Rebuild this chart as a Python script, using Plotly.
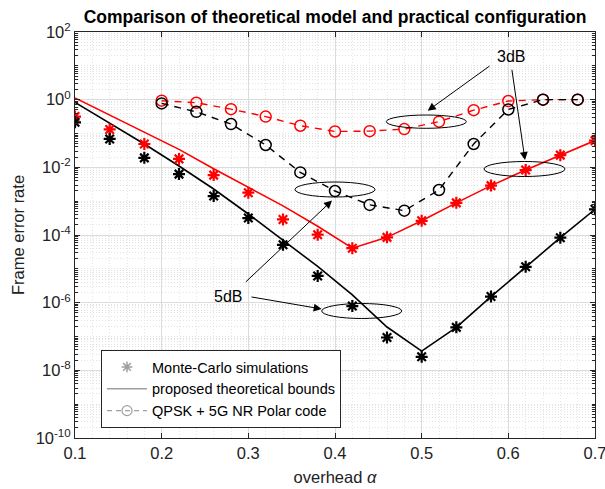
import plotly.graph_objects as go

# ---- data ----
x_mc = [0.10, 0.14, 0.18, 0.22, 0.26, 0.30, 0.34, 0.38, 0.42, 0.46, 0.50, 0.54, 0.58, 0.62, 0.66, 0.70]

# log10 of frame error rate
red_mc_log = [-0.50, -0.88, -1.31, -1.75, -2.23, -2.75, -3.54, -3.99, -4.39, -4.07, -3.58, -3.05, -2.54, -2.08, -1.64, -1.21]
black_mc_log = [-0.67, -1.16, -1.72, -2.20, -2.85, -3.50, -4.29, -5.21, -6.10, -7.03, -7.60, -6.73, -5.82, -4.94, -4.08, -3.24]

red_th_log = [0.05, -0.45, -0.96, -1.47, -2.04, -2.58, -3.14, -3.74, -4.39, -4.07, -3.58, -3.05, -2.54, -2.08, -1.64, -1.21]
black_th_log = [-0.08, -0.69, -1.31, -1.96, -2.64, -3.38, -4.15, -4.93, -5.77, -6.72, -7.43, -6.73, -5.82, -4.94, -4.08, -3.24]

x_polar = [0.20, 0.24, 0.28, 0.32, 0.36, 0.40, 0.44, 0.48, 0.52, 0.56, 0.60, 0.64, 0.68]
red_polar_log = [-0.03, -0.09, -0.28, -0.50, -0.77, -0.94, -0.93, -0.87, -0.65, -0.31, -0.04, 0.0, 0.0]
black_polar_log = [-0.11, -0.36, -0.72, -1.34, -2.15, -2.70, -3.11, -3.28, -2.67, -1.31, -0.29, 0.0, 0.0]

x_ticks = [0.1, 0.2, 0.3, 0.4, 0.5, 0.6, 0.7]
y_tick_exp = [-10, -8, -6, -4, -2, 0, 2]

legend_names = ["Monte-Carlo simulations", "proposed theoretical bounds", "QPSK + 5G NR Polar code"]

def to_lin(v):
    return [10 ** a for a in v]

FONT = "Liberation Sans, Arial, Helvetica, sans-serif"
RED = "#ff0000"
BLK = "#000000"
GRAY = "#a0a0a0"

fig = go.Figure()

# theoretical bounds
fig.add_trace(go.Scatter(x=x_mc, y=to_lin(red_th_log), mode="lines",
                         line=dict(color=RED, width=1.6), showlegend=False))
fig.add_trace(go.Scatter(x=x_mc, y=to_lin(black_th_log), mode="lines",
                         line=dict(color=BLK, width=1.6), showlegend=False))
# polar code
fig.add_trace(go.Scatter(x=x_polar, y=to_lin(red_polar_log), mode="lines+markers",
                         line=dict(color=RED, width=1.4, dash="7px,6px"),
                         marker=dict(symbol="circle-open", size=11, color=RED, line=dict(width=1.5, color=RED)),
                         showlegend=False))
fig.add_trace(go.Scatter(x=x_polar, y=to_lin(black_polar_log), mode="lines+markers",
                         line=dict(color=BLK, width=1.4, dash="7px,6px"),
                         marker=dict(symbol="circle-open", size=11, color=BLK, line=dict(width=1.5, color=BLK)),
                         showlegend=False))
# Monte-Carlo
fig.add_trace(go.Scatter(x=x_mc, y=to_lin(red_mc_log), mode="markers",
                         marker=dict(symbol="asterisk-open", size=10, color=RED, line=dict(width=2.2, color=RED)),
                         showlegend=False))
fig.add_trace(go.Scatter(x=x_mc, y=to_lin(black_mc_log), mode="markers",
                         marker=dict(symbol="asterisk-open", size=10, color=BLK, line=dict(width=2.2, color=BLK)),
                         showlegend=False))

# legend dummies (gray)
fig.add_trace(go.Scatter(x=[None], y=[None], mode="markers", name=legend_names[0],
                         marker=dict(symbol="asterisk-open", size=9, color=GRAY, line=dict(width=1.5, color=GRAY))))
fig.add_trace(go.Scatter(x=[None], y=[None], mode="lines", name=legend_names[1],
                         line=dict(color=GRAY, width=1.6)))
fig.add_trace(go.Scatter(x=[None], y=[None], mode="lines+markers", name=legend_names[2],
                         line=dict(color=GRAY, width=1.2, dash="5px,4px"),
                         marker=dict(symbol="circle-open", size=10, color=GRAY, line=dict(width=1.2, color=GRAY))))

# page geometry (body margin removed by post_script, figure fills the window)
W, H = 605, 489
P_L, P_T, P_R, P_B = 75, 32, 595, 438          # plot area in page pixels
L, T, R, B = P_L, P_T, W - P_R, H - P_B
PW, PH = P_R - P_L, P_B - P_T

def px(xp):
    return (xp - P_L) / PW

def py(yp):
    return (P_B - yp) / PH

minor_y = [k * 10 ** n for n in range(-10, 2) for k in range(1, 10)]

fig.update_layout(
    template="none",
    width=W, height=H,
    margin=dict(l=L, r=R, t=T, b=B, autoexpand=False),
    paper_bgcolor="white", plot_bgcolor="white",
    font=dict(family=FONT, size=16, color="#222222"),
    title=dict(text="<b>Comparison of theoretical model and practical configuration</b>",
               x=(L + PW / 2) / W, xanchor="center", y=1 - 17 / H, yanchor="middle",
               font=dict(family=FONT, size=17.5, color="black")),
    xaxis=dict(range=[0.1, 0.7], tickvals=x_ticks, ticktext=[f"{v:.1f}" for v in x_ticks],
               automargin=False, ticklabeloverflow="allow",
               showline=True, linecolor="#262626", linewidth=1, mirror="ticks",
               ticks="inside", ticklen=5, tickcolor="#262626",
               showgrid=True, gridcolor="#dcdcdc", gridwidth=1, zeroline=False,
               title=dict(text="overhead <i>α</i>", font=dict(size=16.5), standoff=10),
               tickfont=dict(size=16.5),
               minor=dict(dtick=0.02, showgrid=True, gridcolor="#e6e6e6", griddash="1px,2px", ticks="")),
    yaxis=dict(type="log", range=[-10, 2],
               tickvals=[10 ** e for e in y_tick_exp],
               ticktext=[f"10<sup>{e}</sup>" for e in y_tick_exp],
               automargin=False, ticklabeloverflow="allow",
               showline=True, linecolor="#262626", linewidth=1, mirror="ticks",
               ticks="inside", ticklen=5, tickcolor="#262626",
               showgrid=True, gridcolor="#dcdcdc", gridwidth=1, zeroline=False,
               title=dict(text="Frame error rate", font=dict(size=16.5), standoff=6),
               tickfont=dict(size=16.5),
               minor=dict(tickvals=minor_y, showgrid=True, gridcolor="#e3e3e3", griddash="1px,2px",
                          ticks="inside", ticklen=3, tickcolor="#262626")),
    legend=dict(x=px(101), y=py(350), xanchor="left", yanchor="top",
                bgcolor="white", bordercolor="#262626", borderwidth=1,
                font=dict(family=FONT, size=14.5, color="black"),
                tracegroupgap=0, itemwidth=40),
    showlegend=True,
)

# ellipses (annotations), page pixels
ellipses = [(386.3, 466.3, 115.0, 128.3), (484.0, 565.0, 161.5, 176.5),
            (295.0, 375.0, 182.0, 197.0), (321.7, 401.7, 303.5, 318.5)]
for x0, x1, y0, y1 in ellipses:
    fig.add_shape(type="circle", xref="paper", yref="paper",
                  x0=px(x0), x1=px(x1), y0=py(y1), y1=py(y0),
                  line=dict(color="black", width=1))

# arrows: head (px), tail (px)
arrows = [((427.7, 110.7), (491.0, 65.0)), ((525.0, 160.0), (511.7, 68.3)),
          ((332.0, 200.5), (244.3, 283.3)), ((321.7, 309.0), (250.0, 296.7))]
for (hx, hy), (tx, ty) in arrows:
    fig.add_annotation(x=px(hx), y=py(hy), xref="paper", yref="paper",
                       ax=tx - hx, ay=ty - hy, axref="pixel", ayref="pixel",
                       text="", showarrow=True, arrowhead=2, arrowsize=1.6, arrowwidth=1,
                       arrowcolor="black")

fig.add_annotation(x=px(511), y=py(56), xref="paper", yref="paper", text="3dB",
                   xanchor="center", yanchor="middle",
                   showarrow=False, font=dict(family=FONT, size=16, color="black"))
fig.add_annotation(x=px(228), y=py(296), xref="paper", yref="paper", text="5dB",
                   xanchor="center", yanchor="middle",
                   showarrow=False, font=dict(family=FONT, size=16, color="black"))

fig.write_html("out.html", config={"displayModeBar": False},
               post_script="document.body.style.margin='0px';")
